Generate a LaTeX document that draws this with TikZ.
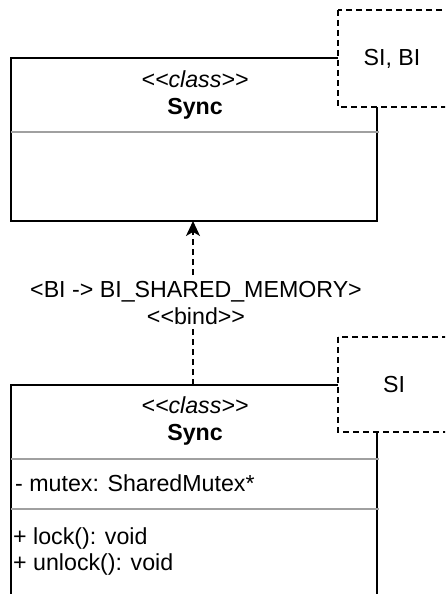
\documentclass[tikz,border=0pt]{standalone}
\usepackage{fontspec}
\setmainfont{Liberation Sans}[Ligatures=TeXOff]
\usetikzlibrary{arrows.meta}
\definecolor{divgray}{HTML}{A0A0A0}
\tikzset{
  x=1pt, y=-1pt,
  classbox/.style={draw=black, line width=1.5pt, fill=white},
  divider/.style={draw=divgray, line width=1.5pt},
  tparam/.style={draw=black, line width=1.2pt, dash pattern=on 6pt off 4pt, fill=white},
  umltext/.style={inner sep=0pt, font=\fontsize{23.2}{26}\selectfont},
  bindline/.style={draw=black, line width=1.2pt, dash pattern=on 6pt off 4pt,
    -{Stealth[length=15pt, width=14pt, inset=4pt]}},
}
\begin{document}
\begin{tikzpicture}
\useasboundingbox (0,0) rectangle (445,594);
\clip (0,0) rectangle (445,594);

% upper class: Sync with template parameters SI, BI
\draw[classbox] (11,58) rectangle (377,221);
\draw[divider] (11,132) -- (379,132);
\node[umltext, anchor=base] (topstereo) at (195,87) {\itshape <<class>>};
\node[umltext, anchor=base] (topname) at (195,114) {\bfseries Sync};
\draw[tparam] (338,10) rectangle (448,107);
\node[umltext, anchor=base] (topparams) at (392,66) {SI, BI};
\coordinate (topbottom) at (193,221);

% lower class: bound Sync with template parameter SI
\draw[classbox] (11,385) rectangle (377,600);
\draw[divider] (11,459) -- (379,459);
\draw[divider] (11,509) -- (379,509);
\node[umltext, anchor=base] (botstereo) at (195,413) {\itshape <<class>>};
\node[umltext, anchor=base] (botname) at (195,440) {\bfseries Sync};
\node[umltext, anchor=base west] (attr) at (15,491) {- mutex: SharedMutex*};
\node[umltext, anchor=base west] (op1) at (13,544) {+ lock(): void};
\node[umltext, anchor=base west] (op2) at (13,570) {+ unlock(): void};
\draw[tparam] (338,337) rectangle (448,432);
\node[umltext, anchor=base] (botparams) at (394,392) {SI};
\coordinate (bottop) at (193,385);

% bind dependency
\draw[bindline] (bottop) -- (topbottom);
\node[fill=white, inner xsep=2pt, inner ysep=3pt, align=center,
      font=\fontsize{23.2}{27}\selectfont] (bindlabel) at (196,303)
  {<BI -> BI\_SHARED\_MEMORY>\\<<bind>>};
\end{tikzpicture}
\end{document}
